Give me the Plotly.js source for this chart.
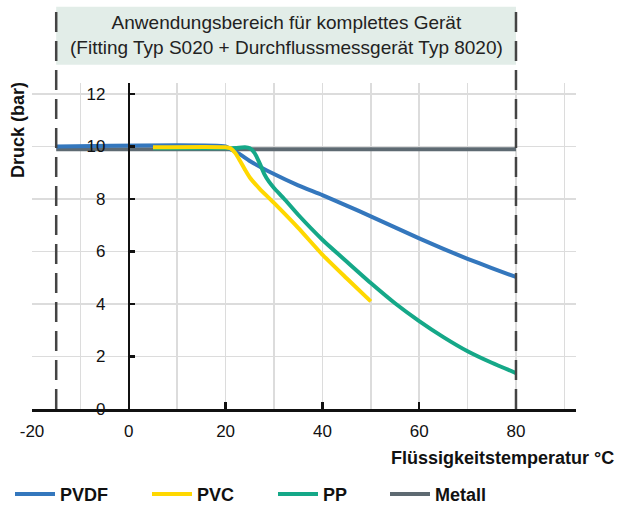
<!DOCTYPE html>
<html>
<head>
<meta charset="utf-8">
<script src="https://cdn.plot.ly/plotly-3.0.1.min.js"></script>
<style>
html,body{margin:0;padding:0;background:#fff;}
#chart{width:619px;height:508px;}
</style>
</head>
<body>
<div id="chart"></div>
<script>
// ---- data ----
const seriesNames = ["PVDF", "PVC", "PP", "Metall"];

const pvdfX = [-15, 20, 21, 23, 25, 30, 35, 40, 45, 50, 55, 60, 65, 70, 75, 80];
const pvdfY = [10, 10, 9.9, 9.7, 9.45, 8.95, 8.52, 8.15, 7.75, 7.34, 6.92, 6.5, 6.1, 5.72, 5.37, 5.03];

const pvcX = [5, 20, 21, 22, 23, 24, 25, 27, 30, 35, 40, 45, 50];
const pvcY = [9.97, 9.97, 9.93, 9.75, 9.45, 9.12, 8.82, 8.4, 7.85, 6.9, 5.88, 4.98, 4.1];

const ppX = [5, 20, 22, 24, 25, 26, 27, 28, 29, 30, 32, 35, 40, 45, 50, 55, 60, 65, 70, 75, 80];
const ppY = [9.93, 9.93, 9.94, 9.97, 9.93, 9.75, 9.38, 8.95, 8.65, 8.42, 8.03, 7.4, 6.45, 5.62, 4.8, 4.03, 3.35, 2.74, 2.2, 1.76, 1.37];

const metallX = [-15, 80];
const metallY = [9.9, 9.9];

const xTicks = [-20, 0, 20, 40, 60, 80];
const yTicks = [0, 2, 4, 6, 8, 10, 12];
const rangeLimits = [-15, 80];   // Anwendungsbereich (dashed lines)

const bannerText = "Anwendungsbereich für komplettes Gerät<br>(Fitting Typ S020 + Durchflussmessgerät Typ 8020)";
const xTitle = "Flüssigkeitstemperatur °C";
const yTitle = "Druck (bar)";

// ---- styling ----
const colors = {PVDF: "#3477bd", PVC: "#ffd800", PP: "#15a888", Metall: "#5e6a72"};
const FONT = "Arial, 'Liberation Sans', Helvetica, sans-serif";
const xRange = [-20, 92.4];
const yRange = [0, 12.42];
const px = v => (v - xRange[0]) / (xRange[1] - xRange[0]);

function trace(name, x, y, legendId, rank) {
  return {
    type: "scatter", mode: "lines", name: name, x: x, y: y,
    line: {color: colors[name], width: 4, shape: "spline", smoothing: 0.6},
    legend: legendId, legendrank: rank, hoverinfo: "x+y+name"
  };
}

const data = [
  trace("Metall", metallX, metallY, "legend4", 4),
  trace("PVDF", pvdfX, pvdfY, "legend", 1),
  trace("PP", ppX, ppY, "legend3", 3),
  trace("PVC", pvcX, pvcY, "legend2", 2)
];

const legendBase = {
  orientation: "h", yanchor: "middle", xanchor: "left", y: -0.262,
  font: {family: FONT, size: 18, color: "#111", weight: "bold"},
  bgcolor: "rgba(0,0,0,0)", borderwidth: 0, itemclick: false, itemwidth: 40
};
const legendTextX = [60, 197, 323, 435]; // pixel start of legend text
const plotL = 32, plotW = 544;
const lx = i => (legendTextX[i] - 50 - plotL) / plotW;

const layout = {
  width: 619, height: 508,
  margin: {l: plotL, r: 619 - plotL - plotW, t: 83, b: 99, autoexpand: false},
  paper_bgcolor: "#fff", plot_bgcolor: "#fff",
  font: {family: FONT, size: 16, color: "#111"},
  showlegend: true,
  legend: Object.assign({}, legendBase, {x: lx(0)}),
  legend2: Object.assign({}, legendBase, {x: lx(1)}),
  legend3: Object.assign({}, legendBase, {x: lx(2)}),
  legend4: Object.assign({}, legendBase, {x: lx(3)}),
  xaxis: {
    range: xRange, tickvals: xTicks, ticktext: xTicks.map(String),
    showgrid: true, gridcolor: "#dcdcdc", gridwidth: 1.5,
    minor: {dtick: 10, tick0: -20, showgrid: true, gridcolor: "#dcdcdc", gridwidth: 1.5, ticks: ""},
    zeroline: false, showline: true, linecolor: "#111", linewidth: 2.5,
    ticks: "inside", ticklen: 7, tickwidth: 2.5, tickcolor: "#111",
    tickfont: {family: FONT, size: 17, color: "#111"},
    ticklabelstandoff: 5, fixedrange: true, automargin: false
  },
  yaxis: {
    range: yRange, tickvals: yTicks, ticktext: yTicks.map(String),
    anchor: "free", position: px(0),
    showgrid: true, gridcolor: "#dcdcdc", gridwidth: 1.5,
    zeroline: false, showline: true, linecolor: "#111", linewidth: 2.5,
    ticks: "inside", ticklen: 5, tickwidth: 2.5, tickcolor: "#111",
    tickfont: {family: FONT, size: 17, color: "#111"},
    ticklabelstandoff: 19, fixedrange: true, automargin: false
  },
  shapes: [
    {type: "rect", xref: "paper", yref: "paper", x0: px(rangeLimits[0]), x1: px(rangeLimits[1]),
     y0: 1.056, y1: 1.234, fillcolor: "#e2ede8", line: {width: 0}, layer: "below"},
    ...rangeLimits.map(v => ({
      type: "line", xref: "paper", yref: "paper", x0: px(v), x1: px(v), y0: 0, y1: 1.225,
      line: {color: "#444", width: 2.5, dash: "20px,9px"}, layer: "above"
    }))
  ],
  annotations: [
    {text: bannerText, xref: "paper", yref: "paper", x: px((rangeLimits[0] + rangeLimits[1]) / 2), y: 1.148,
     xanchor: "center", yanchor: "middle", showarrow: false, align: "center",
     font: {family: FONT, size: 19, color: "#222"}},
    {text: xTitle, xref: "paper", yref: "paper", x: 1.0735, y: -0.149, xanchor: "right", yanchor: "middle",
     showarrow: false, font: {family: FONT, size: 18, color: "#111", weight: "bold"}},
    {text: yTitle, xref: "paper", yref: "paper", x: -0.0267, y: 0.857, xanchor: "center", yanchor: "middle",
     textangle: -90, showarrow: false, font: {family: FONT, size: 18, color: "#111", weight: "bold"}}
  ]
};

Plotly.newPlot("chart", data, layout, {displayModeBar: false, staticPlot: true});
</script>
</body>
</html>
